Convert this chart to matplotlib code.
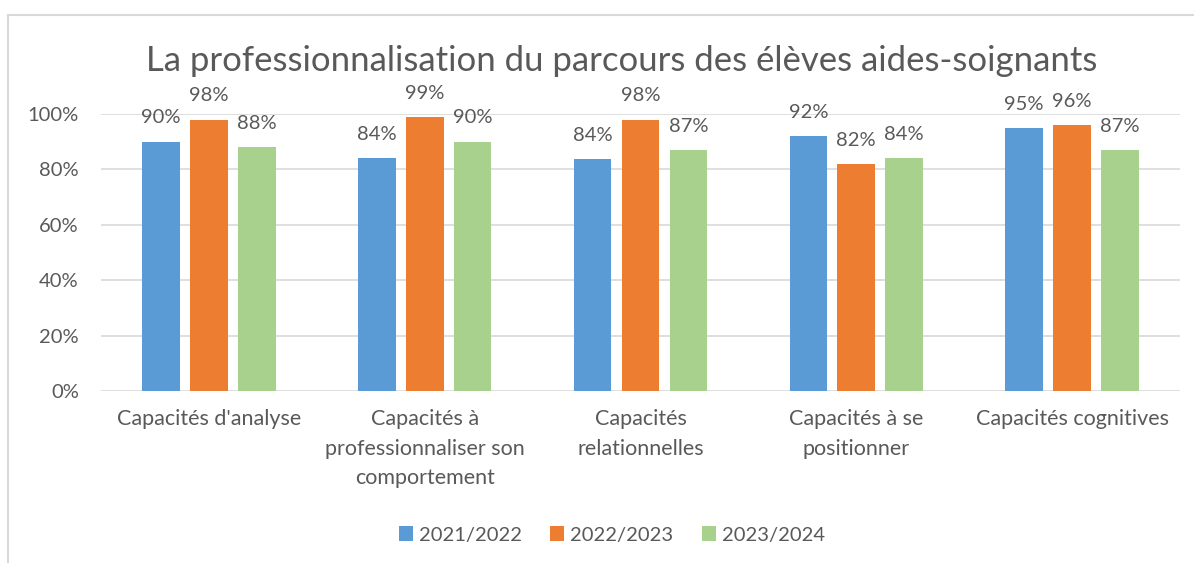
import matplotlib.pyplot as plt
import numpy as np
from matplotlib.lines import Line2D

categories = ["Capacités d'analyse", "Capacités à\nprofessionnaliser son\ncomportement",
              "Capacités\nrelationnelles", "Capacités à se\npositionner", "Capacités cognitives"]
series = ["2021/2022", "2022/2023", "2023/2024"]
v2122 = [0.90, 0.84, 0.836, 0.92, 0.95]
v2223 = [0.98, 0.99, 0.98, 0.82, 0.96]
v2324 = [0.88, 0.90, 0.87, 0.84, 0.87]
yticks = [0, 0.2, 0.4, 0.6, 0.8, 1.0]

colors = ['#5b9bd5', '#ed7d31', '#a9d18e']
txt = '#595959'
plt.rcParams['font.family'] = ['Lato', 'DejaVu Sans']

fig = plt.figure(figsize=(11.94, 5.63), dpi=100)
ax = fig.add_axes([101/1194, 1-391/563, (1180-101)/1194, (391-114)/563])

x = np.arange(len(categories))
w = 0.175
step = 0.222
for i, (vals, c, name) in enumerate(zip([v2122, v2223, v2324], colors, series)):
    bars = ax.bar(x + (i-1)*step, vals, w, color=c, label=name, zorder=3)
    for b, v in zip(bars, vals):
        ax.text(b.get_x() + b.get_width()/2, v + 0.055, f"{v*100:.0f}%", ha='center', va='bottom',
                fontsize=14.5, color=txt, clip_on=False)

ax.set_xlim(-0.5, len(categories)-0.5)
ax.set_ylim(0, 1.0)
ax.set_yticks(yticks)
ax.set_yticklabels([f"{int(t*100)}%" for t in yticks], fontsize=14.5, color=txt)
ax.set_xticks(x)
ax.set_xticklabels(categories, fontsize=15.5, color=txt, va='top', linespacing=1.6)
ax.tick_params(axis='both', length=0)
ax.tick_params(axis='y', pad=16)
ax.tick_params(axis='x', pad=13)
ax.grid(axis='y', color='#d9d9d9', lw=1.2, zorder=0)
for s in ax.spines.values():
    s.set_visible(False)

fig.text(622/1194, 1-61/563, "La professionnalisation du parcours des élèves aides-soignants",
         ha='center', va='center', fontsize=25, color=txt)

fig.legend(loc='center', bbox_to_anchor=(612/1194, 1-535/563), ncol=3,
           frameon=False, fontsize=14.5, handlelength=0.7, handleheight=0.7, columnspacing=1.4,
           handletextpad=0.3, labelcolor=txt)

fig.add_artist(Line2D([8/1194, 8/1194], [0, 1-15/563], color='#d9d9d9', lw=1.5, transform=fig.transFigure))
fig.add_artist(Line2D([8/1194, 1], [1-15/563, 1-15/563], color='#d9d9d9', lw=1.5, transform=fig.transFigure))

fig.savefig('out.png', dpi=100)
